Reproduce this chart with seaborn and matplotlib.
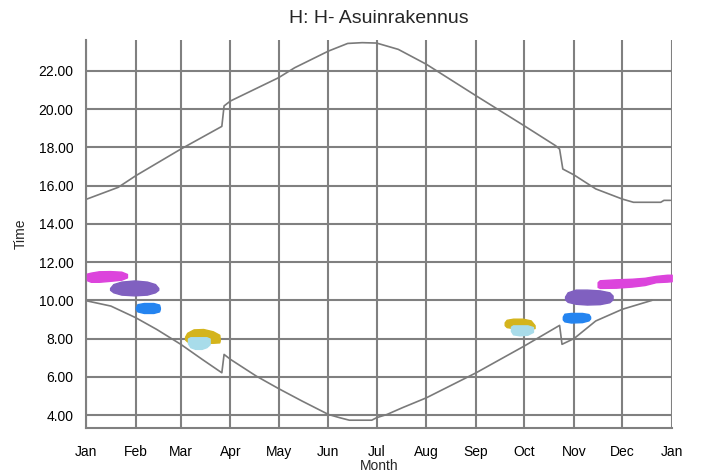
import numpy as np
import matplotlib
matplotlib.use("Agg")
import matplotlib.pyplot as plt
from matplotlib.ticker import FixedLocator, MultipleLocator, FormatStrFormatter
import seaborn as sns

# Month axis (day of year)
month_days = [0, 31, 59, 90, 120, 151, 181, 212, 243, 273, 304, 334, 365]
month_labels = ["Jan", "Feb", "Mar", "Apr", "May", "Jun", "Jul",
                "Aug", "Sep", "Oct", "Nov", "Dec", "Jan"]

# Sunset curve (upper)
sunset_day = [0.6, 20, 31, 59, 84.6, 86, 90, 120, 130, 151, 163, 172, 181,
              194.5, 212, 243, 273, 292.5, 295, 297, 304, 317.5, 334, 341,
              358, 360, 364]
sunset_time = [15.30, 15.91, 16.52, 17.91, 19.10, 20.17, 20.43, 21.65, 22.17,
               23.04, 23.44, 23.48, 23.46, 23.13, 22.35, 20.70, 19.13, 18.09,
               17.91, 16.87, 16.56, 15.83, 15.30, 15.13, 15.13, 15.23, 15.23]

# Sunrise curve (lower)
sunrise_day = [0.6, 15.5, 31, 44, 59, 72.4, 84.6, 86, 90, 106, 120, 134.6,
               151, 158, 164, 178, 181, 187.5, 197, 212, 243, 273, 295,
               296.5, 304, 317.5, 334, 352.6]
sunrise_time = [9.97, 9.70, 9.09, 8.48, 7.70, 6.91, 6.21, 7.17, 6.91, 6.04,
                5.38, 4.73, 4.03, 3.86, 3.73, 3.73, 3.86, 4.03, 4.38, 4.90,
                6.21, 7.61, 8.69, 7.70, 8.00, 8.92, 9.53, 10.00]

# Shadow periods: days, lower time, upper time
magenta_l_day = [0.6, 3, 8, 15, 22, 25.5]
magenta_l_lo = [11.05, 10.97, 10.97, 11.02, 11.08, 11.2]
magenta_l_hi = [11.4, 11.45, 11.52, 11.53, 11.5, 11.38]

purple_l_day = [15, 17, 22, 30, 38, 43, 45]
purple_l_lo = [10.55, 10.42, 10.3, 10.26, 10.3, 10.42, 10.55]
purple_l_hi = [10.65, 10.85, 10.98, 11.04, 10.98, 10.85, 10.65]

blue_l_day = [31, 32, 36, 42, 45.5, 46]
blue_l_lo = [9.55, 9.42, 9.34, 9.34, 9.42, 9.55]
blue_l_hi = [9.62, 9.8, 9.86, 9.86, 9.78, 9.62]

yellow_l_day = [61.7, 63, 67, 73, 79, 83, 83.3]
yellow_l_lo = [7.95, 7.85, 7.8, 7.78, 7.78, 7.8, 7.9]
yellow_l_hi = [8.1, 8.3, 8.48, 8.5, 8.38, 8.2, 8.0]

ltblue_l_day = [63.5, 65, 68, 72, 75, 77]
ltblue_l_lo = [7.75, 7.55, 7.46, 7.46, 7.55, 7.7]
ltblue_l_hi = [8.0, 8.07, 8.07, 8.07, 8.07, 8.0]

yellow_r_day = [260.8, 262, 266, 272, 277, 279.4]
yellow_r_lo = [8.7, 8.6, 8.55, 8.52, 8.52, 8.55]
yellow_r_hi = [8.85, 8.98, 9.04, 9.04, 8.95, 8.7]

ltblue_r_day = [264.7, 266, 270, 275, 278.4]
ltblue_r_lo = [8.4, 8.22, 8.17, 8.2, 8.35]
ltblue_r_hi = [8.62, 8.69, 8.69, 8.69, 8.6]

blue_r_day = [297, 298, 302, 309, 313, 314]
blue_r_lo = [9.0, 8.9, 8.84, 8.86, 8.95, 9.05]
blue_r_hi = [9.15, 9.3, 9.34, 9.34, 9.28, 9.15]

purple_r_day = [298.4, 300, 305, 312, 320, 326, 328]
purple_r_lo = [10.05, 9.92, 9.82, 9.78, 9.8, 9.9, 10.05]
purple_r_hi = [10.2, 10.42, 10.56, 10.56, 10.52, 10.42, 10.25]

magenta_r_day = [318.7, 320, 330, 340, 348, 355, 362, 364.8]
magenta_r_lo = [10.7, 10.65, 10.66, 10.72, 10.8, 10.95, 10.98, 11.0]
magenta_r_hi = [10.95, 11.05, 11.1, 11.13, 11.18, 11.28, 11.34, 11.34]

MAGENTA = "#dc44dc"
PURPLE = "#8060c0"
BLUE = "#2484f0"
YELLOW = "#d4b41c"
LTBLUE = "#a8dcea"
GREY = "#808080"

sns.set_style("white")
plt.rcParams["font.family"] = ["Liberation Sans", "DejaVu Sans"]

fig = plt.figure(figsize=(7.01, 4.75), dpi=100)
ax = fig.add_axes([0.1227, 0.0989, 0.8359, 0.8169])

# grid
ax.set_axisbelow(True)
ax.grid(True, which="major", color=GREY, linewidth=1.5)

# curves
sns.lineplot(x=sunset_day, y=sunset_time, sort=False, estimator=None,
             color="#7a7a7a", linewidth=1.2, ax=ax)
sns.lineplot(x=sunrise_day, y=sunrise_time, sort=False, estimator=None,
             color="#7a7a7a", linewidth=1.2, ax=ax)

# shadow blobs
blobs = [
    (magenta_l_day, magenta_l_lo, magenta_l_hi, MAGENTA),
    (purple_l_day, purple_l_lo, purple_l_hi, PURPLE),
    (blue_l_day, blue_l_lo, blue_l_hi, BLUE),
    (yellow_l_day, yellow_l_lo, yellow_l_hi, YELLOW),
    (ltblue_l_day, ltblue_l_lo, ltblue_l_hi, LTBLUE),
    (yellow_r_day, yellow_r_lo, yellow_r_hi, YELLOW),
    (ltblue_r_day, ltblue_r_lo, ltblue_r_hi, LTBLUE),
    (blue_r_day, blue_r_lo, blue_r_hi, BLUE),
    (purple_r_day, purple_r_lo, purple_r_hi, PURPLE),
    (magenta_r_day, magenta_r_lo, magenta_r_hi, MAGENTA),
]
for d, lo, hi, c in blobs:
    ax.fill_between(d, lo, hi, facecolor=c, edgecolor=c, linewidth=1.0,
                    zorder=3)

ax.set_xlim(0, 365)
ax.set_ylim(3.32, 23.62)

ax.xaxis.set_major_locator(FixedLocator(month_days))
ax.set_xticklabels(month_labels)
minor_x = []
for a, b in zip(month_days[:-1], month_days[1:]):
    minor_x += list(np.linspace(a, b, 5)[1:-1])
ax.xaxis.set_minor_locator(FixedLocator(minor_x))

ax.yaxis.set_major_locator(MultipleLocator(2))
ax.yaxis.set_major_formatter(FormatStrFormatter("%.2f"))
ax.yaxis.set_minor_locator(MultipleLocator(0.4))

for s in ["top", "right"]:
    ax.spines[s].set_visible(False)
for s in ["left", "bottom"]:
    ax.spines[s].set_color(GREY)
    ax.spines[s].set_linewidth(1.5)

ax.tick_params(axis="both", which="major", direction="out", color=GREY,
               width=1.2, labelsize=10, labelcolor="black")
ax.tick_params(axis="y", which="major", length=7, pad=2)
ax.tick_params(axis="x", which="major", length=9, pad=3)
ax.tick_params(axis="both", which="minor", direction="out", color=GREY,
               width=1.0, length=5)

ax.set_xlabel("Month", fontsize=10, labelpad=0)
ax.set_ylabel("Time", fontsize=10, labelpad=8)
ax.set_title("H: H- Asuinrakennus", fontsize=14, pad=12)

fig.savefig("out.png", dpi=100)
